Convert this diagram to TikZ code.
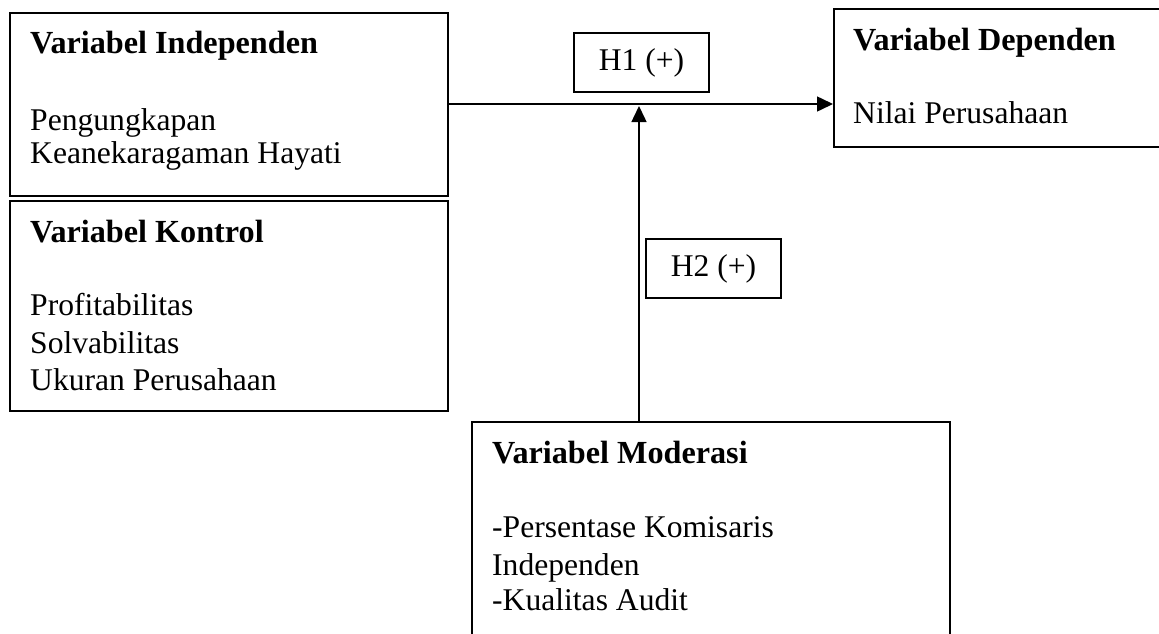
\documentclass[tikz,border=0pt]{standalone}
\usepackage{fontspec}
\setmainfont{Liberation Serif}
\usetikzlibrary{arrows.meta}
\begin{document}
\begin{tikzpicture}[x=1pt,y=-1pt,
  box/.style={draw, line width=1.5pt, inner sep=0pt, anchor=north west},
  hbox/.style={draw, line width=1.5pt, inner sep=0pt, font=\fontsize{31.6}{36}\selectfont},
  txt/.style={inner sep=0pt, anchor=base west, font=\fontsize{31.6}{36}\selectfont},
  ttl/.style={txt, font=\fontsize{32.2}{36}\selectfont\bfseries},
  conn/.style={line width=1.5pt, -{Triangle[length=16pt,width=15pt]}}]
\useasboundingbox (0,0) rectangle (1159,633);
\clip (0,0) rectangle (1159,633);
% boxes
\node[box, minimum width=438pt, minimum height=183pt] (indep) at (9,12) {};
\node[box, minimum width=438pt, minimum height=210pt] (kontrol) at (9,200) {};
\node[box, minimum width=340pt, minimum height=138pt] (dep) at (833,8) {};
\node[box, minimum width=478pt, minimum height=240pt] (mod) at (471,421) {};
\node[hbox, minimum width=135pt, minimum height=59pt] (h1) at (641.5,62.5) {H1 (+)};
\node[hbox, minimum width=135pt, minimum height=59pt] (h2) at (713.5,268.5) {H2 (+)};
% texts
\node[ttl] (t1) at (30,53) {Variabel Independen};
\node[txt] (t1a) at (30,130) {Pengungkapan};
\node[txt] (t1b) at (30,163) {Keanekaragaman Hayati};
\node[ttl] (t2) at (30,242) {Variabel Kontrol};
\node[txt] (t2a) at (30,315) {Profitabilitas};
\node[txt] (t2b) at (30,353) {Solvabilitas};
\node[txt] (t2c) at (30,390) {Ukuran Perusahaan};
\node[ttl] (t3) at (853,50) {Variabel Dependen};
\node[txt] (t3a) at (853,123) {Nilai Perusahaan};
\node[ttl] (t4) at (492,463) {Variabel Moderasi};
\node[txt] (t4a) at (492,537) {-Persentase Komisaris};
\node[txt] (t4b) at (492,575) {Independen};
\node[txt] (t4c) at (492,610) {-Kualitas Audit};
% connectors
\coordinate (a) at (447,104);
\coordinate (j) at (639,106);
\draw[conn] (a) -- (a -| dep.west);
\draw[conn] (j |- mod.north) -- (j);
\end{tikzpicture}
\end{document}
